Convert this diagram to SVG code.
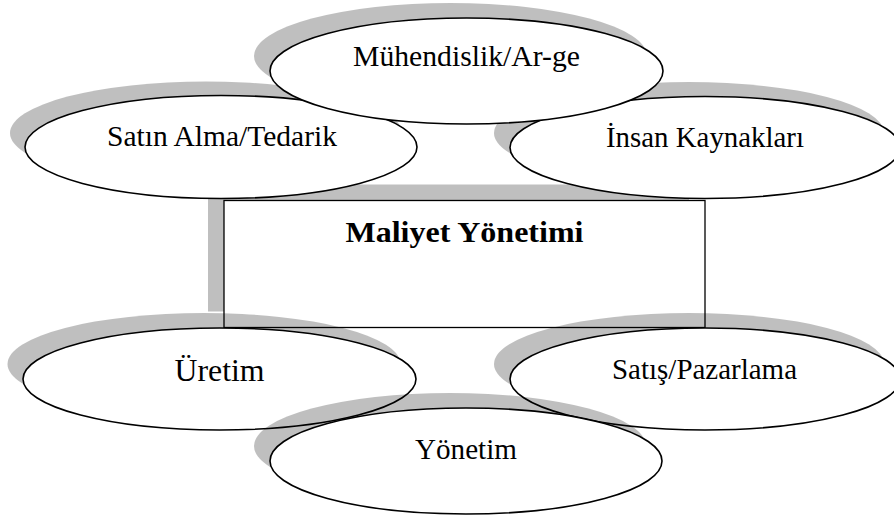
<svg xmlns="http://www.w3.org/2000/svg" width="894" height="518" viewBox="0 0 894 518">
  <style>
    .shadow { fill: #000; fill-opacity: 0.25; stroke: none; }
    .bubble { fill: #fff; stroke: #000; stroke-width: 1.6; }
    .box { fill: #fff; stroke: #000; stroke-width: 1.3; }
    .label { font-family: "Liberation Serif", "Times New Roman", serif; font-size: 29px; fill: #000; text-anchor: middle; }
    .big { font-size: 31px; }
    .title { font-family: "Liberation Serif", "Times New Roman", serif; font-size: 30px; font-weight: bold; fill: #000; text-anchor: middle; }
  </style>

  <rect width="894" height="518" fill="#fff"/>

  <!-- central box -->
  <g id="maliyet-yonetimi">
    <rect class="shadow" x="208" y="184.5" width="481" height="127"/>
    <rect class="box" x="224" y="200.5" width="481" height="127"/>
    <text class="title" x="464.5" y="242" textLength="238" lengthAdjust="spacingAndGlyphs">Maliyet Yönetimi</text>
  </g>

  <g id="connectors"/>

  <g id="satin-alma">
    <ellipse class="shadow" cx="206" cy="133" rx="196" ry="51.5"/>
    <ellipse class="bubble" cx="221" cy="147" rx="196" ry="51.5"/>
    <text class="label" x="222" y="146" textLength="230" lengthAdjust="spacingAndGlyphs">Satın Alma/Tedarik</text>
  </g>

  <g id="insan-kaynaklari">
    <ellipse class="shadow" cx="689" cy="133" rx="195" ry="51"/>
    <ellipse class="bubble" cx="705" cy="147.5" rx="195" ry="51"/>
    <text class="label" x="705" y="147" textLength="198" lengthAdjust="spacingAndGlyphs">İnsan Kaynakları</text>
  </g>

  <g id="muhendislik">
    <ellipse class="shadow" cx="450.5" cy="56" rx="196.5" ry="53"/>
    <ellipse class="bubble" cx="466.5" cy="71" rx="196.5" ry="53"/>
    <text class="label" x="466.5" y="66" textLength="227" lengthAdjust="spacingAndGlyphs">Mühendislik/Ar-ge</text>
  </g>

  <g id="uretim">
    <ellipse class="shadow" cx="204" cy="364" rx="196.5" ry="51"/>
    <ellipse class="bubble" cx="219.5" cy="379" rx="196.5" ry="51"/>
    <text class="label big" x="219.5" y="381" textLength="90" lengthAdjust="spacingAndGlyphs">Üretim</text>
  </g>

  <g id="satis-pazarlama">
    <ellipse class="shadow" cx="689" cy="364" rx="195" ry="51"/>
    <ellipse class="bubble" cx="705" cy="379" rx="195" ry="51"/>
    <text class="label" x="704.5" y="379" textLength="185" lengthAdjust="spacingAndGlyphs">Satış/Pazarlama</text>
  </g>

  <g id="yonetim">
    <ellipse class="shadow" cx="450" cy="446" rx="196" ry="53"/>
    <ellipse class="bubble" cx="466" cy="461" rx="196" ry="53"/>
    <text class="label" x="466" y="459" textLength="102" lengthAdjust="spacingAndGlyphs">Yönetim</text>
  </g>
</svg>
